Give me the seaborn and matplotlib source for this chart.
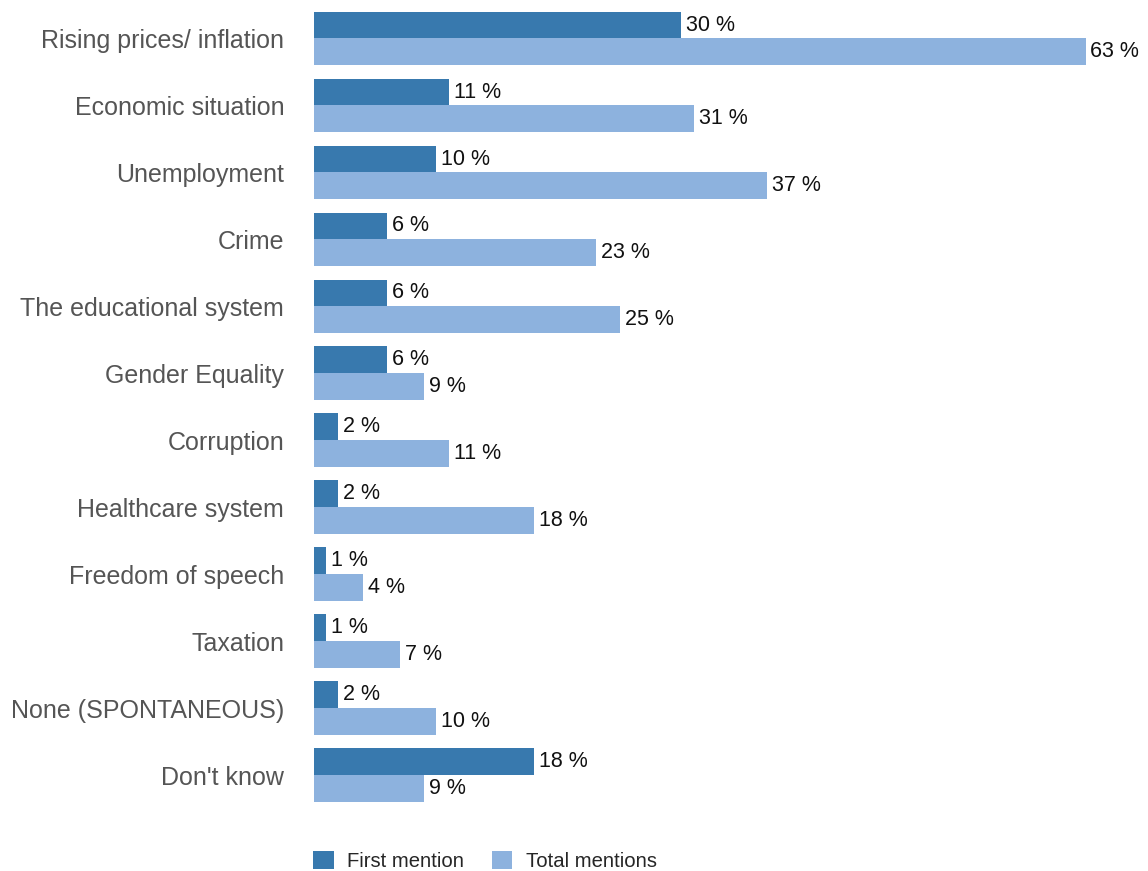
import matplotlib
matplotlib.use("Agg")
import matplotlib.pyplot as plt
import seaborn as sns
import pandas as pd

categories = [
    "Rising prices/ inflation",
    "Economic situation",
    "Unemployment",
    "Crime",
    "The educational system",
    "Gender Equality",
    "Corruption",
    "Healthcare system",
    "Freedom of speech",
    "Taxation",
    "None (SPONTANEOUS)",
    "Don't know",
]
first_mention = [30, 11, 10, 6, 6, 6, 2, 2, 1, 1, 2, 18]
total_mentions = [63, 31, 37, 23, 25, 9, 11, 18, 4, 7, 10, 9]
series_names = ["First mention", "Total mentions"]
colors = ["#3879ae", "#8db2de"]

df = pd.DataFrame({
    "category": categories * 2,
    "value": first_mention + total_mentions,
    "series": [series_names[0]] * len(categories) + [series_names[1]] * len(categories),
})

sns.set_theme(style="white")
plt.rcParams["font.family"] = ["Liberation Sans", "DejaVu Sans"]

fig = plt.figure(figsize=(11.48, 8.71), dpi=100)
ax = fig.add_axes([314 / 1148, 1 - 808.5 / 871, 1 - 314 / 1148, (808.5 - 5) / 871])

sns.barplot(data=df, y="category", x="value", hue="series", order=categories,
            hue_order=series_names, palette=colors, orient="h", width=0.8,
            saturation=1, linewidth=0, edgecolor="none", ax=ax, legend=True)

for container in ax.containers:
    ax.bar_label(container, labels=[f"{v:g} %" for v in container.datavalues],
                 padding=3.5, fontsize=15.5, color="#111111")

ax.set_xlim(0, 68.1)
ax.set_ylim(11.5, -0.5)
ax.set_xlabel("")
ax.set_ylabel("")
ax.set_xticks([])
ax.tick_params(axis="y", length=0, pad=21.5, labelsize=18, labelcolor="#555555")
for side in ["top", "right", "bottom", "left"]:
    ax.spines[side].set_visible(False)

handles, labels = ax.get_legend_handles_labels()
ax.get_legend().remove()
fig.legend(handles, labels, loc="lower left", bbox_to_anchor=(295 / 1148, -0.021),
           ncol=2, frameon=False, fontsize=14.6, handlelength=1.0, handleheight=1.0,
           handletextpad=0.65, columnspacing=1.4)

fig.savefig("out.png", dpi=100)
